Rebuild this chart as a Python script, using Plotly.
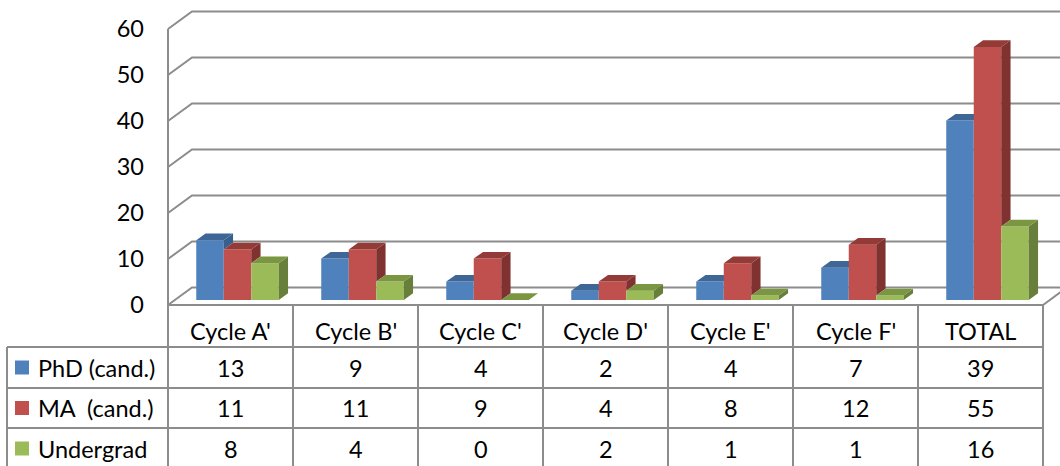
import plotly.graph_objects as go

# ---------------- data ----------------
categories = ["Cycle A'", "Cycle B'", "Cycle C'", "Cycle D'", "Cycle E'", "Cycle F'", "TOTAL"]
series_names = ["PhD (cand.)", "MA  (cand.)", "Undergrad"]
phd = [13, 9, 4, 2, 4, 7, 39]
ma = [11, 11, 9, 4, 8, 12, 55]
undergrad = [8, 4, 0, 2, 1, 1, 16]
y_ticks = [0, 10, 20, 30, 40, 50, 60]

series_values = [phd, ma, undergrad]
front_colors = ["#4F81BD", "#C0504D", "#9BBB59"]
side_colors = ["#385F8E", "#7F3230", "#677F3B"]
top_colors = ["#3E6797", "#943A37", "#7A9640"]

# ---------------- layout geometry ----------------
W, H = 1060, 466
X0_PX, CAT_PX = 168, 125        # left edge of first category, category width
Y0_PX, UNIT_PX = 305, 4.6       # pixel of value 0 at front plane, pixels per unit


def px_x(p):
    return (p - X0_PX) / CAT_PX - 0.5


def px_y(p):
    return (Y0_PX - p) / UNIT_PX


BW = 27.5 / CAT_PX              # bar width (category units)
SHIFT_X, SHIFT_Y = 7 / CAT_PX, 5 / UNIT_PX        # bars placed a little behind front plane
DX, DY = 9.3 / CAT_PX, 6.7 / UNIT_PX              # bar depth
WDX, WDY = 24 / CAT_PX, 17.5 / UNIT_PX            # wall depth
n = len(categories)
LEFT = -0.5
RIGHT = n - 0.5

GRID = "#8C8C8C"
TABLE = "#8C8C8C"
FONT = "Lato"
FS = 23.5

fig = go.Figure()

# ---- walls: side wall + back wall gridlines ----
gx, gy = [], []
for v in y_ticks:
    gx += [LEFT, LEFT + WDX, RIGHT + WDX, None]
    gy += [v, v + WDY, v + WDY, None]
# front-left axis line
gx += [LEFT, LEFT, None]
gy += [0, y_ticks[-1], None]
# floor front and right edges
gx += [LEFT, RIGHT, RIGHT + WDX, None]
gy += [0, 0, WDY, None]
fig.add_trace(go.Scatter(x=gx, y=gy, mode="lines", line=dict(color=GRID, width=2),
                         hoverinfo="skip", showlegend=False))

# ---- 3D bars ----
for s, vals in enumerate(series_values):
    fx, fy, sx, sy, tx, ty = [], [], [], [], [], []
    for i, v in enumerate(vals):
        xl = i - 1.5 * BW + s * BW + SHIFT_X
        xr = xl + BW
        b = SHIFT_Y
        t = b + v
        # front face
        if v > 0:
            fx += [xl, xr, xr, xl, xl, None]
            fy += [b, b, t, t, b, None]
        # side face (clipped by the next bar in the group)
        lower = b
        if s < len(series_values) - 1:
            lower = max(b, b + series_values[s + 1][i])
        if t > lower:
            sx += [xr, xr + DX, xr + DX, xr, xr, None]
            sy += [lower, lower + DY, t + DY, t, lower, None]
        # top face
        tx += [xl, xr, xr + DX, xl + DX, xl, None]
        ty += [t, t, t + DY, t + DY, t, None]
    fig.add_trace(go.Scatter(x=fx, y=fy, mode="lines", fill="toself", fillcolor=front_colors[s],
                             line=dict(width=0), name=series_names[s], hoverinfo="skip", showlegend=False))
    fig.add_trace(go.Scatter(x=sx, y=sy, mode="lines", fill="toself", fillcolor=side_colors[s],
                             line=dict(width=0), hoverinfo="skip", showlegend=False))
    fig.add_trace(go.Scatter(x=tx, y=ty, mode="lines", fill="toself", fillcolor=top_colors[s],
                             line=dict(width=0), hoverinfo="skip", showlegend=False))

# ---- data table ----
row_lines_px = [347, 388, 428]
row_centers_px = [367.5, 408, 448.5]
header_center_px = 331
TL = px_x(7)
bottom = px_y(H + 5)
shapes = []
for k in range(n + 1):
    shapes.append(dict(type="line", xref="x", yref="y", x0=LEFT + k, x1=LEFT + k, y0=0, y1=bottom,
                       line=dict(color=TABLE, width=2)))
for p in row_lines_px:
    shapes.append(dict(type="line", xref="x", yref="y", x0=TL, x1=RIGHT, y0=px_y(p), y1=px_y(p),
                       line=dict(color=TABLE, width=2)))
shapes.append(dict(type="line", xref="x", yref="y", x0=TL, x1=TL, y0=px_y(row_lines_px[0]), y1=bottom,
                   line=dict(color=TABLE, width=2)))

annotations = []
for i, c in enumerate(categories):
    annotations.append(dict(x=i, y=px_y(header_center_px), xref="x", yref="y", text=c, showarrow=False,
                            font=dict(family=FONT, size=FS, color="black"), xanchor="center", yanchor="middle"))
for s, vals in enumerate(series_values):
    yc = px_y(row_centers_px[s])
    # legend key
    shapes.append(dict(type="rect", xref="x", yref="y", x0=px_x(15), x1=px_x(29),
                       y0=yc - 7 / UNIT_PX, y1=yc + 7 / UNIT_PX,
                       fillcolor=front_colors[s], line=dict(width=0)))
    annotations.append(dict(x=px_x(36), y=yc, xref="x", yref="y", text=series_names[s].replace("  ", "&nbsp; "),
                            showarrow=False, font=dict(family=FONT, size=FS, color="black"),
                            xanchor="left", yanchor="middle"))
    for i, v in enumerate(vals):
        annotations.append(dict(x=i, y=yc, xref="x", yref="y", text=str(v), showarrow=False,
                                font=dict(family=FONT, size=FS, color="black"),
                                xanchor="center", yanchor="middle"))

fig.update_layout(
    width=W, height=H, autosize=False,
    margin=dict(l=0, r=0, t=0, b=0),
    paper_bgcolor="white", plot_bgcolor="white",
    showlegend=False,
    xaxis=dict(range=[px_x(0), px_x(W)], visible=False, domain=[0, 1], fixedrange=True),
    yaxis=dict(range=[px_y(H), px_y(0)], domain=[0, 1], anchor="free", position=144 / W,
               tickvals=y_ticks, ticktext=[str(v) for v in y_ticks], ticks="",
               showgrid=False, zeroline=False, showline=False,
               tickfont=dict(family=FONT, size=FS, color="black"), fixedrange=True),
    shapes=shapes,
    annotations=annotations,
)

fig.write_html("out.html", config={"displayModeBar": False},
               post_script="document.body.style.margin='0';document.body.style.overflow='hidden';")
